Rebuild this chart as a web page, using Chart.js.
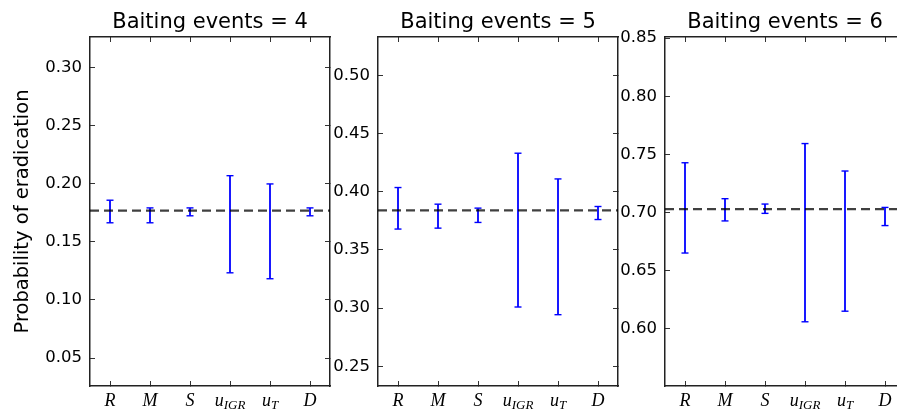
<!DOCTYPE html>
<html>
<head>
<meta charset="utf-8">
<script src="https://cdn.jsdelivr.net/npm/chart.js@4.4.0/dist/chart.umd.min.js"></script>
<style>
  html, body { margin: 0; padding: 0; background: #fff; overflow: hidden; }
  #wrap { position: relative; width: 897px; height: 410px; overflow: hidden; }
  canvas { position: absolute; top: 0; }
</style>
</head>
<body>
<div id="wrap">
  <canvas id="c4" width="345" height="410" style="left:0px"></canvas>
  <canvas id="c5" width="305" height="410" style="left:330px"></canvas>
  <canvas id="c6" width="300" height="410" style="left:620px"></canvas>
</div>
<script>
// categories (drawn as math-style labels: main letter + subscript)
const catIdx = [0, 1, 2, 3, 4, 5];
const catMain = ['R', 'M', 'S', 'u', 'u', 'D'];
const catSub = ['', '', '', 'IGR', 'T', ''];

const titles = ['Baiting events = 4', 'Baiting events = 5', 'Baiting events = 6'];

// error bar ends
const low4 = [0.1663, 0.1663, 0.1723, 0.1233, 0.1182, 0.1723];
const high4 = [0.1857, 0.1791, 0.1791, 0.2068, 0.1997, 0.1791];
const mean4 = 0.1768;

const low5 = [0.3679, 0.3687, 0.3736, 0.3009, 0.2943, 0.3761];
const high5 = [0.4036, 0.3893, 0.3859, 0.4331, 0.4110, 0.3873];
const mean5 = 0.3839;

const low6 = [0.6653, 0.6929, 0.6994, 0.6062, 0.6153, 0.6889];
const high6 = [0.7429, 0.7120, 0.7074, 0.7594, 0.7358, 0.7045];
const mean6 = 0.7031;

// y tick values and ranges
const yTicks4 = [0.05, 0.10, 0.15, 0.20, 0.25, 0.30];
const yTicks5 = [0.25, 0.30, 0.35, 0.40, 0.45, 0.50];
const yTicks6 = [0.60, 0.65, 0.70, 0.75, 0.80, 0.85];
const yRange4 = [0.026, 0.326];
const yRange5 = [0.233, 0.533];
const yRange6 = [0.551, 0.851];

Chart.defaults.font.family = '"DejaVu Sans", sans-serif';
Chart.defaults.color = '#000';

const mathLabels = {
    id: 'mathLabels',
    afterDraw(chart) {
        const xs = chart.scales.x;
        const ctx = chart.ctx;
        const mainFont = 'italic 18px "Liberation Serif"';
        const subFont = 'italic 13px "Liberation Serif"';
        ctx.save();
        ctx.fillStyle = '#000';
        ctx.textBaseline = 'alphabetic';
        ctx.textAlign = 'left';
        xs.ticks.forEach(t => {
            const i = t.value;
            ctx.font = mainFont;
            const wm = ctx.measureText(catMain[i]).width;
            ctx.font = subFont;
            const ws = catSub[i] ? ctx.measureText(catSub[i]).width : 0;
            const x0 = xs.getPixelForValue(i) - (wm + ws) / 2;
            ctx.font = mainFont;
            ctx.fillText(catMain[i], x0, xs.top + 20);
            if (catSub[i]) {
                ctx.font = subFont;
                ctx.fillText(catSub[i], x0 + wm, xs.top + 23);
            }
        });
        ctx.restore();
    }
};

function barPoints(low, high) {
    const pts = [];
    low.forEach((lo, i) => {
        pts.push({ x: i, y: lo }, { x: i, y: high[i] }, { x: i, y: null });
    });
    return pts;
}

const tickGrid = { display: true, drawOnChartArea: false, drawTicks: true, tickLength: -5, color: '#333', lineWidth: 1 };
const frame = { display: true, color: '#222', width: 1.5 };

function makePanel(id, title, low, high, mean, yTicks, yRange, leftW, rightW, yLabel) {
    const ctx = document.getElementById(id).getContext('2d');
    return new Chart(ctx, {
        type: 'scatter',
        data: {
            datasets: [{
                data: [{ x: -0.5, y: mean }, { x: 5.5, y: mean }],
                showLine: true,
                borderColor: 'rgba(0,0,0,0.75)',
                borderWidth: 2.2,
                borderDash: [9, 5],
                pointRadius: 0
            }, {
                data: barPoints(low, high),
                showLine: true,
                spanGaps: false,
                borderColor: '#0000ff',
                borderWidth: 1.8,
                pointStyle: 'line',
                pointRadius: 3.5,
                pointBorderWidth: 1.4,
                pointBorderColor: '#0000ff'
            }]
        },
        options: {
            responsive: false,
            animation: false,
            events: [],
            layout: { padding: 0 },
            plugins: {
                legend: { display: false },
                tooltip: { enabled: false },
                title: {
                    display: true,
                    text: title,
                    fullSize: false,
                    color: '#000',
                    font: { size: 21, weight: 'normal', lineHeight: 1.2 },
                    padding: { top: 10, bottom: 1.8 }
                }
            },
            scales: {
                x: {
                    type: 'linear', position: 'bottom', min: -0.5, max: 5.5,
                    grid: tickGrid, border: frame,
                    ticks: { display: false },
                    afterBuildTicks: s => { s.ticks = catIdx.map(v => ({ value: v })); },
                    afterFit: s => { s.height = 24; }
                },
                x2: {
                    type: 'linear', position: 'top', min: -0.5, max: 5.5,
                    grid: tickGrid, border: frame,
                    ticks: { display: false },
                    afterBuildTicks: s => { s.ticks = catIdx.map(v => ({ value: v })); },
                    afterFit: s => { s.height = 0; }
                },
                y: {
                    type: 'linear', position: 'left', min: yRange[0], max: yRange[1],
                    grid: tickGrid, border: frame,
                    ticks: { padding: 13, font: { size: 16.5 }, callback: v => v.toFixed(2) },
                    afterBuildTicks: s => { s.ticks = yTicks.map(v => ({ value: v })); },
                    afterFit: s => { s.width = leftW; },
                    title: {
                        display: !!yLabel,
                        text: yLabel || '',
                        color: '#000',
                        font: { size: 19.5 },
                        padding: { top: 10.8, bottom: 0 }
                    }
                },
                y2: {
                    type: 'linear', position: 'right', min: yRange[0], max: yRange[1],
                    grid: tickGrid, border: frame,
                    ticks: { display: false },
                    afterBuildTicks: s => { s.ticks = yTicks.map(v => ({ value: v })); },
                    afterFit: s => { s.width = rightW; }
                }
            }
        },
        plugins: [mathLabels]
    });
}

makePanel('c4', titles[0], low4, high4, mean4, yTicks4, yRange4, 90, 15, 'Probability of eradication');
makePanel('c5', titles[1], low5, high5, mean5, yTicks5, yRange5, 48, 17, null);
makePanel('c6', titles[2], low6, high6, mean6, yTicks6, yRange6, 45, 15, null);
</script>
</body>
</html>
